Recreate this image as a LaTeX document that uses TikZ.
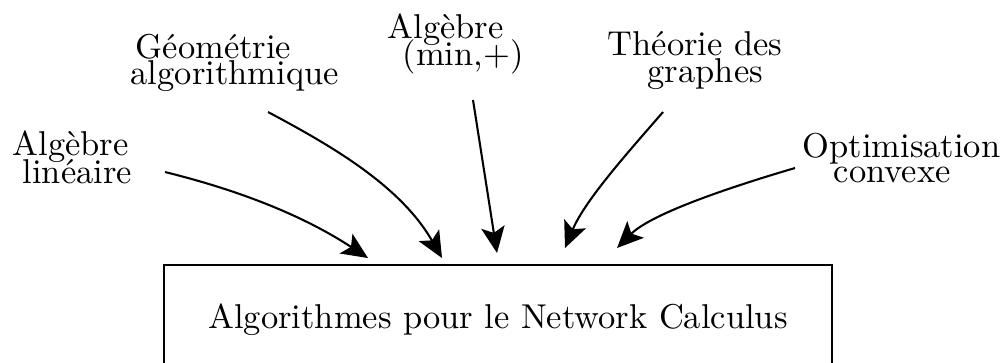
\documentclass[tikz,border=0pt]{standalone}
\usepackage{fontspec}
\usetikzlibrary{arrows.meta}
\begin{document}
\begin{tikzpicture}[x=0.29pt,y=-0.29pt,
  lbl/.style={anchor=base west,inner sep=0pt,font=\fontsize{10}{12}\selectfont},
  feed/.style={line width=0.6pt,-{Stealth[length=7.6pt,width=6.8pt,inset=1.7pt]}},
  mainbox/.style={draw,line width=0.35pt,minimum width=668*0.29pt,minimum height=110*0.29pt,inner sep=0pt,font=\fontsize{10}{12}\selectfont}]
\useasboundingbox (0,0) rectangle (1006,362);
\clip (0,0) rectangle (1006,362);
% labels
\node[lbl] (la1) at (12,155) {Algèbre};
\node[lbl] (la2) at (22,183) {linéaire};
\node[lbl] (ge1) at (135,58) {Géométrie};
\node[lbl] (ge2) at (130,84) {algorithmique};
\node[lbl] (mp1) at (387,38) {Algèbre};
\node[lbl] (mp2) at (402,65) {(min,+)};
\node[lbl] (th1) at (607,55) {Théorie des};
\node[lbl] (th2) at (647,82) {graphes};
\node[lbl] (op1) at (802,157) {Optimisation};
\node[lbl] (op2) at (833,182) {convexe};
% box
\node[mainbox] (box) at (498,320) {Algorithmes pour le Network Calculus};
% connector ends
\coordinate (s1) at (165,172); \coordinate (e1) at (368,258);
\coordinate (s2) at (268,112); \coordinate (e2) at (442,258);
\coordinate (s3) at (473,100); \coordinate (e3) at (497,253);
\coordinate (s4) at (663,112); \coordinate (e4) at (565,248);
\coordinate (s5) at (795,168); \coordinate (e5) at (617,248);
\draw[feed] (s1) .. controls (250,193) and (310,220) .. (e1);
\draw[feed] (s2) .. controls (330,145) and (400,185) .. (e2);
\draw[feed] (s3) -- (e3);
\draw[feed] (s4) .. controls (630,150) and (585,200) .. (e4);
\draw[feed] (s5) .. controls (720,190) and (650,215) .. (e5);
\end{tikzpicture}
\end{document}
